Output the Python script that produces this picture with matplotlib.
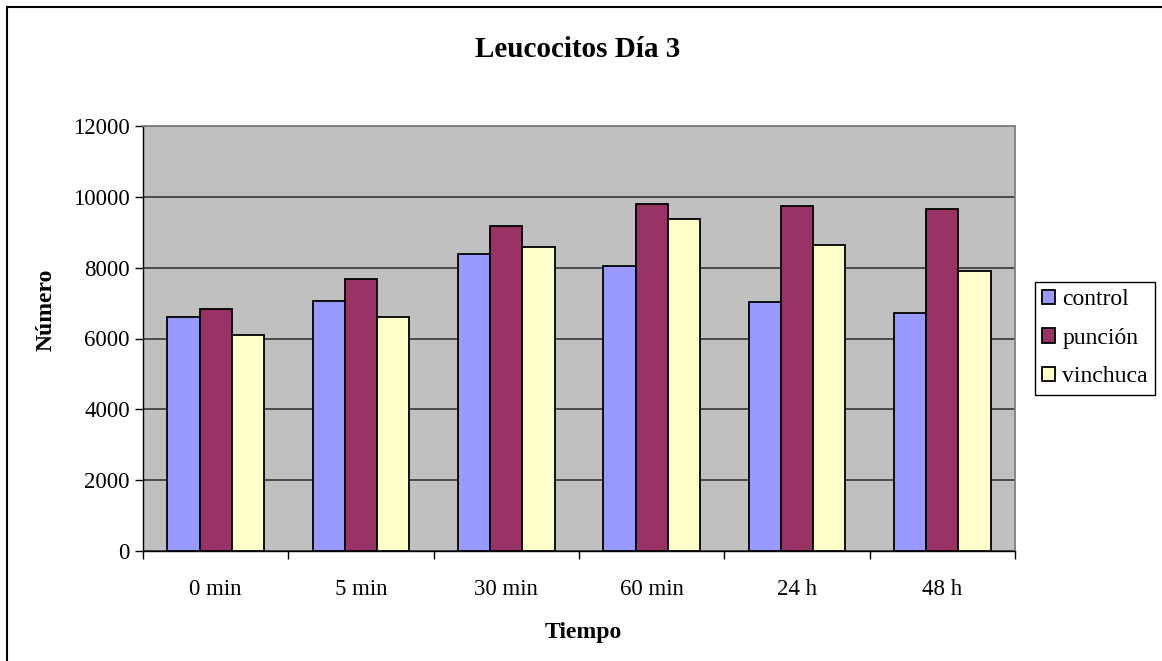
#!/usr/bin/env python3
"""
Leucocitos Dia 3 - grouped bar chart (Excel style)
"""

import matplotlib
matplotlib.use('Agg')
import matplotlib.pyplot as plt
import numpy as np
from matplotlib.lines import Line2D

# Data
categories = ['0 min', '5 min', '30 min', '60 min', '24 h', '48 h']
control = [6620, 7060, 8380, 8060, 7020, 6720]
puncion = [6820, 7680, 9190, 9800, 9750, 9650]
vinchuca = [6100, 6620, 8580, 9380, 8630, 7920]
series_names = ['control', 'punción', 'vinchuca']
series_colors = ['#9999FF', '#993366', '#FFFFCC']
y_ticks = [0, 2000, 4000, 6000, 8000, 10000, 12000]

plt.rcParams['font.family'] = ['Liberation Serif', 'DejaVu Serif']

W, H = 1162, 661
fig = plt.figure(figsize=(W / 100, H / 100), dpi=100)
fig.patch.set_facecolor('white')

# chart border (only top and left edges are visible in the crop)
fig.add_artist(Line2D([7 / W, 1.0], [1 - 7 / H, 1 - 7 / H],
                      transform=fig.transFigure, color='black', linewidth=1.5))
fig.add_artist(Line2D([7 / W, 7 / W], [0.0, 1 - 7 / H],
                      transform=fig.transFigure, color='black', linewidth=1.5))

# plot area
ax = fig.add_axes([143 / W, 1 - 551 / H, 872 / W, 425 / H])
ax.set_facecolor('#C0C0C0')

x = np.arange(len(categories))
bar_w = 1 / 4.5
for i, (vals, name, col) in enumerate(zip([control, puncion, vinchuca],
                                          series_names, series_colors)):
    ax.bar(x + (i - 1) * bar_w, vals, width=bar_w, color=col,
           edgecolor='black', linewidth=1.3, label=name, zorder=3)

ax.set_xlim(-0.5, len(categories) - 0.5)
ax.set_ylim(0, 12000)
ax.set_yticks(y_ticks)
ax.set_yticklabels([str(v) for v in y_ticks], fontsize=16.5)
ax.yaxis.grid(True, color='#404040', linewidth=1.3, zorder=1)
ax.set_axisbelow(True)

ax.set_xticks(x)
ax.set_xticklabels(categories, fontsize=16.5)
ax.tick_params(axis='x', which='major', length=0, pad=20)
ax.set_xticks(np.arange(-0.5, len(categories)), minor=True)
ax.tick_params(axis='x', which='minor', length=6, direction='out', width=1)
ax.tick_params(axis='y', length=6, direction='out', width=1, pad=3.5)

for side in ['left', 'bottom']:
    ax.spines[side].set_color('black')
    ax.spines[side].set_linewidth(1)
for side in ['top', 'right']:
    ax.spines[side].set_color('#808080')
    ax.spines[side].set_linewidth(1.3)

# titles and axis labels placed like the Excel chart
fig.text(578 / W, 1 - 57 / H, 'Leucocitos Día 3', ha='center', va='baseline',
         fontsize=21, fontweight='bold')
fig.text(583 / W, 1 - 638 / H, 'Tiempo', ha='center', va='baseline',
         fontsize=17, fontweight='bold')
fig.text(46 / W, 1 - 310 / H, 'Número', ha='center', va='center',
         rotation=90, fontsize=17, fontweight='bold')

leg = ax.legend(loc='upper left', bbox_to_anchor=(1035 / W, 1 - 282 / H),
                bbox_transform=fig.transFigure, fontsize=17,
                frameon=True, fancybox=False, handlelength=0.55,
                handleheight=0.55, handletextpad=0.3, labelspacing=0.75,
                borderpad=0.3, borderaxespad=0)
leg.get_frame().set_edgecolor('black')
leg.get_frame().set_linewidth(1)
leg.get_frame().set_alpha(1)

plt.savefig('out.png', dpi=100)
plt.close()
